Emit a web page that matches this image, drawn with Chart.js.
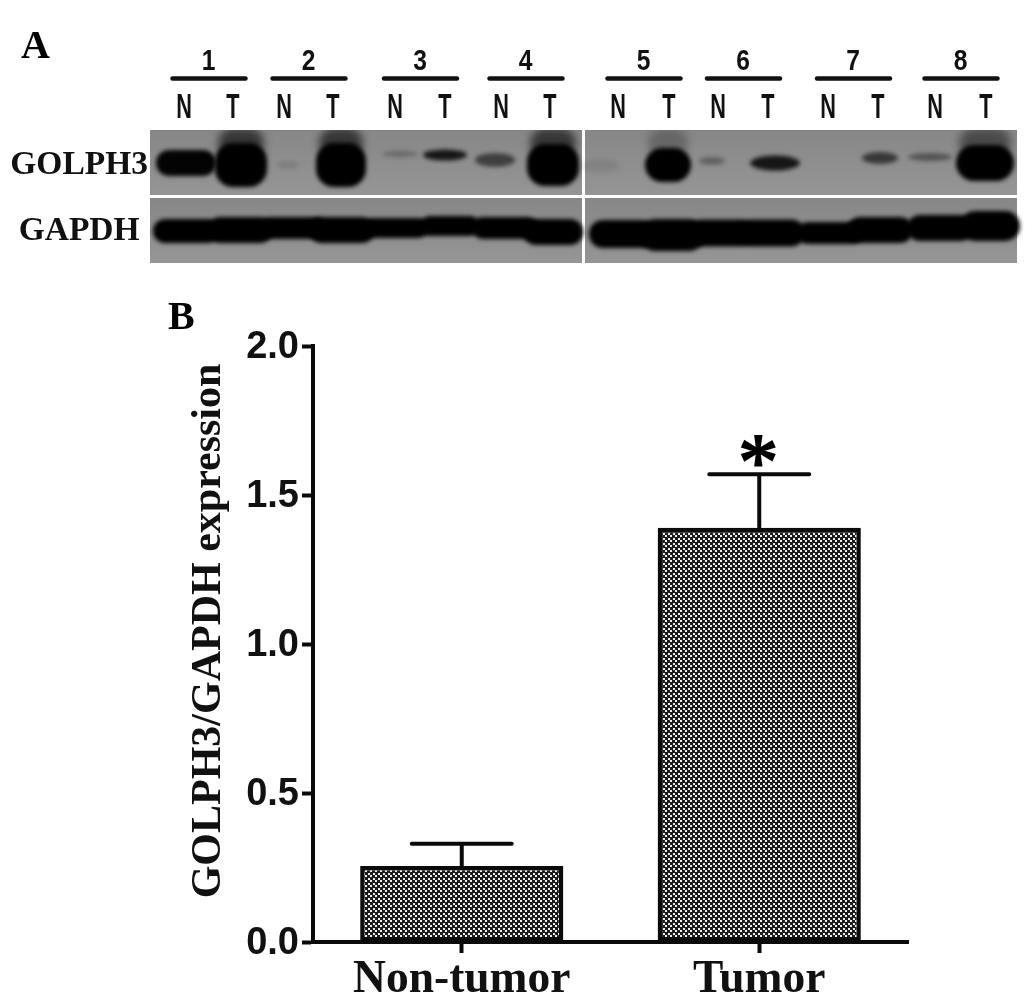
<!DOCTYPE html>
<html><head><meta charset="utf-8">
<script src="https://cdn.jsdelivr.net/npm/chart.js@4"></script>
<style>
html,body{margin:0;padding:0;background:#fff;overflow:hidden}
#wrap{position:relative;width:1033px;height:993px}
canvas{position:absolute;left:0;filter:blur(0.5px)}
.letter{position:absolute;font:bold 40px "Liberation Serif",serif;color:#000;line-height:40px}
</style></head>
<body><div id="wrap">
<canvas id="blot" width="1033" height="285" style="top:0"></canvas>
<canvas id="bars" width="1033" height="993" style="top:0"></canvas>
<div class="letter" style="left:21px;top:25px">A</div>
<div class="letter" style="left:168px;top:296px">B</div>
</div>
<script>
// Panel B values
const categories = ["Non-tumor", "Tumor"];
const expression = [0.255, 1.39];
const errorTops = [0.33, 1.57];
const significance = ["", "*"];
const yTicks = [0, 0.5, 1, 1.5, 2];
const yTitle = "GOLPH3/GAPDH expression";
// Panel A values (gel coordinates)
const pairLabels = ["1","2","3","4","5","6","7","8"];
const laneTypes = ["N","T","N","T","N","T","N","T","N","T","N","T","N","T","N","T"];
const lanePositions = [184,233,284,333,395,445,501,550,618,669,718,768,828,878,935,986];
const rowLabels = ["GOLPH3","GAPDH"];
const rowPositions = [165,231];
const golph3Centre = [186,241,288,341,400,445,495,553,600,668,712,775,828,880,930,985];
const golph3Row    = [163,165,165,165,154,155,160,165,166,165,161,163,160,158,157,163];
const golph3Width  = [60,52,22,50,36,44,40,52,38,46,26,50,0,36,44,58];
const golph3Height = [26,44,7,44,6,11,14,42,14,34,7,15,0,12,8,36];
const golph3Dark   = [0.98,1,0.12,1,0.25,0.85,0.55,1,0.08,1,0.35,0.85,0,0.6,0.4,1];
const golph3Smear  = [0,0.6,0,0.6,0,0,0,0.6,0,0.25,0,0,0,0,0,0.45];
const gapdhCentre  = [186,240,293,342,396,450,505,553,622,672,722,772,830,880,940,990];
const gapdhRow     = [231,230,228,230,228,226,228,232,234,235,233,233,233,230,228,226];
const gapdhWidth   = [66,66,66,66,66,60,66,60,66,66,66,66,66,66,66,60];
const gapdhHeight  = [24,26,22,26,20,20,22,26,28,32,27,27,22,26,26,30];

function bandSprite(w,h,alpha,blur){
  const pad=Math.ceil(blur*3)+2, c=document.createElement('canvas');
  c.width=Math.max(w+2*pad,4); c.height=Math.max(h+2*pad,4);
  const x=c.getContext('2d');
  x.filter='blur('+blur+'px)';
  x.fillStyle='rgba(0,0,0,'+alpha+')';
  x.beginPath();
  if(h>18){x.roundRect(c.width/2-w/2,c.height/2-h/2,w,h,Math.min(h/2,18));}
  else{x.ellipse(c.width/2,c.height/2,w/2,h/2,0,0,Math.PI*2);}
  x.fill();
  return c;
}
const golphPts=[],golphSprites=[],smearPts=[],smearSprites=[],gapdhPts=[],gapdhSprites=[];
lanePositions.forEach((_,i)=>{
  if(golph3Dark[i]>0){
    golphPts.push({x:golph3Centre[i],y:golph3Row[i]});
    golphSprites.push(bandSprite(golph3Width[i],golph3Height[i],golph3Dark[i],2.2));
  }
  if(golph3Smear[i]>0){
    smearPts.push({x:golph3Centre[i],y:143});
    smearSprites.push(bandSprite(golph3Width[i]-6,30,golph3Smear[i],4));
  }
  gapdhPts.push({x:gapdhCentre[i],y:gapdhRow[i]});
  gapdhSprites.push(bandSprite(gapdhWidth[i],gapdhHeight[i],1,2));
});

const gelPlugin={
  id:'gel',
  beforeDatasetsDraw(ch){
    const c=ch.ctx,X=ch.scales.x,Y=ch.scales.y;
    c.save();
    [[150,582],[585,1017]].forEach(([a,b])=>{
      [[130,195],[198,263]].forEach(([t,u])=>{
        const px=X.getPixelForValue(a),py=Y.getPixelForValue(t),
              w=X.getPixelForValue(b)-px,h=Y.getPixelForValue(u)-py;
        const g=c.createLinearGradient(0,py,0,py+h);
        g.addColorStop(0,'#878787');g.addColorStop(1,'#959595');
        c.fillStyle=g;c.fillRect(px,py,w,h);
      });
    });
    c.restore();
  },
  afterDraw(ch){
    const c=ch.ctx,X=ch.scales.x;
    c.save();
    c.textAlign='center';c.textBaseline='middle';c.fillStyle='#111';c.strokeStyle='#111';
    const squeezed=(txt,px,py,size,sx)=>{
      c.save();c.translate(px,py);c.scale(sx,1);
      c.font='bold '+size+'px "Liberation Sans",sans-serif';
      c.fillText(txt,0,0);c.restore();
    };
    lanePositions.forEach((v,i)=>squeezed(laneTypes[i],X.getPixelForValue(v),108,35,0.62));
    pairLabels.forEach((lab,i)=>{
      const m=X.getPixelForValue((lanePositions[2*i]+lanePositions[2*i+1])/2);
      squeezed(lab,m,62,30,0.82);
      c.lineWidth=4.5;c.lineCap='round';
      c.beginPath();c.moveTo(m-36,78.5);c.lineTo(m+37,78.5);c.stroke();
    });
    c.restore();
  }
};
new Chart(document.getElementById('blot'),{
  type:'scatter',
  data:{datasets:[
    {data:smearPts,pointStyle:smearSprites,pointRadius:5,clip:0},
    {data:golphPts,pointStyle:golphSprites,pointRadius:5,clip:false},
    {data:gapdhPts,pointStyle:gapdhSprites,pointRadius:5,clip:false}
  ]},
  plugins:[gelPlugin],
  options:{
    responsive:false,animation:false,devicePixelRatio:1,
    layout:{padding:{top:90,right:16,bottom:22,left:0}},
    plugins:{legend:{display:false},tooltip:{enabled:false}},
    scales:{
      x:{type:'linear',position:'top',min:150,max:1017,
        grid:{display:false},border:{display:false},
        afterFit(s){s.height=40;},
        ticks:{display:false}},
      y:{type:'linear',reverse:true,min:130,max:263,
        grid:{display:false},border:{display:false},
        afterBuildTicks(a){a.ticks=rowPositions.map(v=>({value:v}));},
        afterFit(s){s.width=150;},
        ticks:{autoSkip:false,padding:-6,color:'#111',crossAlign:'center',
          font:{family:'"Liberation Serif",serif',size:33.5,weight:'bold'},
          callback:(v,i)=>rowLabels[i]}}
    }
  }
});

function dotPattern(){
  const t=document.createElement('canvas');t.width=5;t.height=5;
  const x=t.getContext('2d');
  x.fillStyle='#1c1c1c';x.fillRect(0,0,5,5);
  x.fillStyle='#efefef';
  x.fillRect(0,0,2,2);x.fillRect(3,3,2,2);
  return x.createPattern(t,'repeat');
}
const errorPlugin={
  id:'errors',
  afterDatasetsDraw(ch){
    const c=ch.ctx,X=ch.scales.x,Y=ch.scales.y;
    c.save();c.strokeStyle='#0a0a0a';c.lineWidth=4;c.lineCap='round';
    categories.forEach((_,i)=>{
      const px=X.getPixelForValue(i),top=Y.getPixelForValue(errorTops[i]),
            base=Y.getPixelForValue(expression[i]);
      c.beginPath();c.moveTo(px,base);c.lineTo(px,top);
      c.moveTo(px-50,top);c.lineTo(px+50,top);c.stroke();
      if(significance[i]){
        c.fillStyle='#000';c.textAlign='center';c.textBaseline='alphabetic';
        c.font='80px "Liberation Serif",serif';
        c.lineWidth=2;c.strokeStyle='#000';
        c.fillText(significance[i],px-1,top+15);
        c.strokeText(significance[i],px-1,top+15);
      }
    });
    c.fillStyle='#111';c.textAlign='center';c.textBaseline='middle';
    c.translate(209,631);c.rotate(-Math.PI/2);
    c.font='bold 42px "Liberation Serif",serif';
    c.fillText(yTitle,0,0);
    c.restore();
  }
};
new Chart(document.getElementById('bars'),{
  type:'bar',
  data:{labels:categories,datasets:[{
    data:expression,backgroundColor:dotPattern(),borderColor:'#0a0a0a',borderWidth:4.5,
    borderSkipped:false,categoryPercentage:1,barPercentage:0.683
  }]},
  plugins:[errorPlugin],
  options:{
    responsive:false,animation:false,devicePixelRatio:1,
    layout:{padding:{top:346,right:125,bottom:0,left:0}},
    plugins:{legend:{display:false},tooltip:{enabled:false}},
    scales:{
      x:{grid:{display:true,offset:false,drawOnChartArea:false,tickLength:11,tickWidth:4,tickColor:'#0a0a0a'},
        border:{color:'#0a0a0a',width:4},
        afterFit(s){s.height=51;},
        ticks:{color:'#111',padding:0,font:{family:'"Liberation Serif",serif',size:45.5,weight:'bold'}}},
      y:{min:0,max:2,
        afterBuildTicks(a){a.ticks=yTicks.map(v=>({value:v}));},
        afterFit(s){s.width=313;},
        grid:{display:true,drawOnChartArea:false,tickLength:11,tickWidth:4,tickColor:'#0a0a0a'},
        border:{color:'#0a0a0a',width:4},
        ticks:{color:'#111',padding:3,labelOffset:2,font:{family:'"Liberation Sans",sans-serif',size:38,weight:'bold'},
          callback:v=>v.toFixed(1)}}
    }
  }
});
</script>
</body></html>
